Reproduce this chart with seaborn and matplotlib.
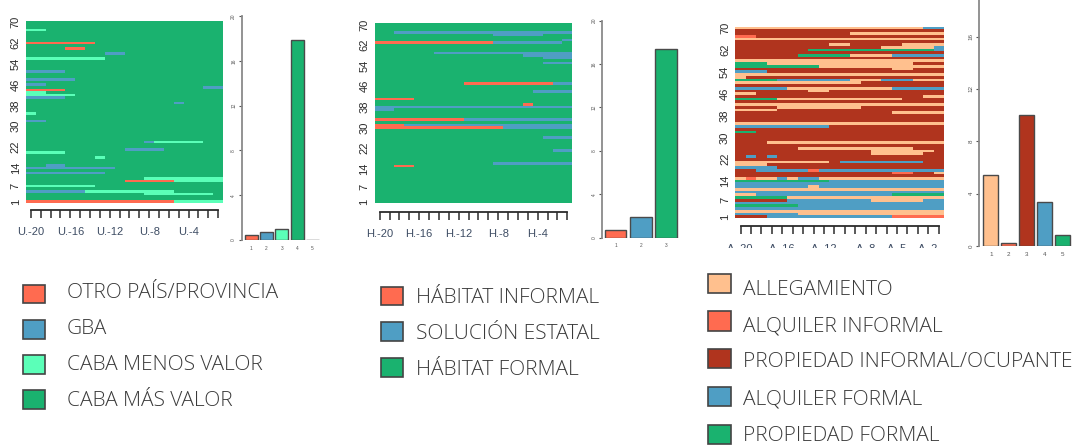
import numpy as np
import pandas as pd
import matplotlib
matplotlib.use("Agg")
import matplotlib.pyplot as plt
from matplotlib.colors import ListedColormap
from matplotlib.patches import Rectangle
import seaborn as sns

# colores
ROJO = "#FF6B50"
AZUL = "#4F9EC4"
MENTA = "#5BFFB8"
VERDE = "#1AB26F"
DURAZNO = "#FFC08E"
LADRILLO = "#B0341E"

# --- datos: tramos (fila, desde, hasta, categoria) sobre un fondo por panel ---
# panel 1: 1 otro pais, 2 gba, 3 caba menos valor, 4 caba mas valor
tramos_u = [
    (67, 0, 2, 3), (62, 0, 7, 1), (60, 4, 6, 1), (58, 8, 10, 2), (56, 0, 8, 3),
    (51, 0, 4, 2), (48, 0, 5, 2), (46, 0, 2, 2), (45, 18, 20, 2), (44, 0, 4, 1),
    (43, 0, 2, 3), (42, 0, 5, 3), (41, 0, 4, 2), (39, 15, 16, 2), (35, 0, 1, 3),
    (32, 0, 2, 2), (24, 12, 13, 2), (24, 13, 18, 3), (21, 10, 14, 2), (20, 0, 4, 3),
    (18, 7, 8, 3), (15, 2, 4, 2), (14, 0, 9, 2), (12, 0, 8, 2), (10, 12, 20, 3),
    (9, 10, 15, 1), (9, 15, 20, 3), (7, 0, 7, 3), (5, 0, 6, 2), (5, 6, 15, 3),
    (4, 12, 19, 3), (1, 0, 15, 1), (1, 15, 20, 3),
]
barras_u = [0.45, 0.7, 0.95, 17.9, 0.03]
colores_u = [ROJO, AZUL, MENTA, VERDE]
ticks_u = ["U.-20", "U.-16", "U.-12", "U.-8", "U.-4"]
pos_ticks_u = [0, 4, 8, 12, 16]
leyenda_u = ["OTRO PAÍS/PROVINCIA", "GBA", "CABA MENOS VALOR", "CABA MÁS VALOR"]

# panel 2: 1 informal, 2 estatal, 3 formal
tramos_h = [
    (67, 2, 20, 2), (66, 12, 17, 2), (64, 19, 20, 2), (63, 0, 12, 1), (63, 12, 19, 2),
    (59, 6, 20, 2), (58, 15, 20, 2), (57, 17, 20, 2), (55, 17, 20, 2), (47, 9, 18, 1),
    (47, 18, 20, 2), (44, 16, 20, 2), (41, 0, 4, 1), (39, 15, 16, 1), (38, 0, 20, 2),
    (37, 0, 2, 2), (33, 0, 9, 1), (33, 9, 20, 2), (31, 0, 3, 1), (31, 3, 20, 2),
    (30, 0, 13, 1), (30, 13, 20, 2), (26, 17, 20, 2), (21, 18, 20, 2), (16, 12, 20, 2),
    (15, 2, 4, 1),
]
barras_h = [0.68, 1.87, 17.4]
colores_h = [ROJO, AZUL, VERDE]
ticks_h = ["H.-20", "H.-16", "H.-12", "H.-8", "H.-4"]
pos_ticks_h = [0, 4, 8, 12, 16]
leyenda_h = ["HÁBITAT INFORMAL", "SOLUCIÓN ESTATAL", "HÁBITAT FORMAL"]

# panel 3: 1 allegamiento, 2 alquiler informal, 3 propiedad informal, 4 alquiler formal, 5 propiedad formal
tramos_a = [
    (70, 0, 18, 1), (70, 18, 20, 4), (68, 11, 20, 1), (67, 0, 2, 2), (66, 0, 20, 1),
    (64, 9, 11, 1), (64, 16, 20, 1), (63, 14, 19, 1), (63, 19, 20, 4), (62, 7, 19, 5),
    (62, 19, 20, 4), (60, 6, 11, 5), (60, 11, 15, 1), (60, 15, 20, 4), (58, 0, 20, 1),
    (57, 0, 3, 5), (57, 3, 17, 1), (56, 0, 8, 5), (56, 8, 20, 1), (55, 15, 17, 1),
    (54, 0, 3, 4), (53, 0, 20, 1), (52, 0, 1, 1), (51, 0, 4, 5), (51, 4, 11, 4),
    (51, 11, 12, 1), (51, 12, 14, 1), (51, 14, 17, 4), (51, 17, 20, 1), (50, 0, 12, 1),
    (48, 0, 5, 4), (48, 5, 15, 1), (48, 15, 20, 4), (47, 7, 9, 1), (46, 0, 2, 1),
    (45, 18, 20, 1), (44, 0, 4, 5), (44, 4, 16, 1), (42, 0, 20, 1), (41, 4, 12, 1),
    (40, 0, 4, 1), (39, 15, 20, 1), (35, 0, 20, 1), (34, 0, 9, 4), (32, 0, 2, 5),
    (28, 3, 20, 1), (26, 6, 17, 1), (25, 13, 19, 1), (24, 13, 18, 1), (23, 1, 2, 4),
    (23, 3, 4, 4), (21, 0, 9, 1), (21, 10, 18, 4), (20, 0, 3, 1), (19, 0, 4, 4),
    (18, 2, 7, 4), (18, 7, 8, 2), (18, 8, 20, 4), (17, 15, 17, 2), (17, 19, 20, 1),
    (15, 0, 1, 1), (15, 1, 2, 2), (15, 2, 4, 1), (15, 4, 5, 4), (15, 5, 6, 1),
    (15, 6, 8, 4), (15, 8, 20, 1), (14, 0, 9, 5), (14, 9, 20, 4), (13, 0, 20, 4),
    (12, 0, 20, 4), (12, 7, 8, 1), (11, 0, 20, 1), (10, 0, 20, 4), (9, 0, 2, 1),
    (9, 2, 15, 4), (9, 15, 20, 5), (8, 0, 5, 5), (8, 5, 20, 1), (7, 0, 5, 3),
    (7, 5, 13, 4), (7, 13, 18, 1), (7, 18, 20, 4), (6, 0, 20, 4), (5, 0, 6, 5),
    (5, 6, 20, 4), (4, 0, 20, 4), (3, 0, 20, 1), (2, 0, 6, 4), (2, 6, 20, 1),
    (1, 0, 3, 3), (1, 3, 15, 4), (1, 15, 20, 2),
]
barras_a = [5.4, 0.2, 10.0, 3.37, 0.84]
colores_a = [DURAZNO, ROJO, LADRILLO, AZUL, VERDE]
ticks_a = ["A.-20", "A.-16", "A.-12", "A.-8", "A.-5", "A.-2"]
pos_ticks_a = [0, 4, 8, 12, 15, 18]
leyenda_a = ["ALLEGAMIENTO", "ALQUILER INFORMAL", "PROPIEDAD INFORMAL/OCUPANTE", "ALQUILER FORMAL", "PROPIEDAD FORMAL"]

filas_y = [1, 7, 14, 22, 30, 38, 46, 54, 62, 70]
N_FILAS = 70
N_COLS = 20

# estilo
sns.set_style("white")
plt.rcParams["font.family"] = ["Liberation Sans", "DejaVu Sans"]

W, H = 1075, 446
fig = plt.figure(figsize=(W / 100, H / 100), dpi=100)


def caja(x0, y0, x1, y1):
    # pixeles (origen arriba a la izquierda) a fraccion de figura
    return [x0 / W, 1 - y1 / H, (x1 - x0) / W, (y1 - y0) / H]


def secuencias(box, tramos, fondo, colores, etiquetas, pos_etiquetas, sep, pad):
    m = np.full((N_FILAS, N_COLS), fondo)
    for fila, ini, fin, cat in tramos:
        m[N_FILAS - fila, ini:fin] = cat
    ax = fig.add_axes(caja(*box))
    sns.heatmap(m, cmap=ListedColormap(colores), vmin=0.5, vmax=len(colores) + 0.5,
                cbar=False, ax=ax, xticklabels=False, yticklabels=False)

    # eje y, rotado como en R
    ax.set_yticks([N_FILAS - f + 0.5 for f in filas_y])
    ax.set_yticklabels(filas_y, rotation=90, va="center", fontsize=8, color="#2b2b2b")
    ax.tick_params(axis="y", length=0, pad=3.8)

    # peine inferior: un tick por periodo (set_position reinicia los ticks, va primero)
    ax.spines["bottom"].set_visible(True)
    ax.spines["bottom"].set_position(("outward", sep))
    ax.set_xticks(np.arange(N_COLS) + 0.5)
    ax.set_xticklabels([etiquetas[pos_etiquetas.index(i)] if i in pos_etiquetas else ""
                        for i in range(N_COLS)])
    ax.tick_params(axis="x", length=6, width=1.1, color="#2b2b2b", pad=pad, bottom=True,
                   labelsize=8, labelcolor="#3d4c63")
    ax.spines["bottom"].set_bounds(0.5, N_COLS - 0.5)
    ax.spines["bottom"].set_linewidth(1.3)
    ax.spines["bottom"].set_color("#2b2b2b")
    return ax


def barras(box, valores, colores, xlim, ylim, yticks, fs, ancho=0.85):
    ax = fig.add_axes(caja(*box))
    df = pd.DataFrame({"cat": [str(i + 1) for i in range(len(valores))], "val": valores})
    sns.barplot(data=df, x="cat", y="val", hue="cat", palette=colores, legend=False, ax=ax,
                width=ancho, saturation=1, edgecolor="#4a4a4a", linewidth=1)
    ax.set_xlim(*xlim)
    ax.set_ylim(*ylim)
    ax.set_xlabel("")
    ax.set_ylabel("")
    ax.set_yticks(yticks)
    ax.set_yticklabels(yticks, rotation=90, va="center", fontsize=fs, color="#555555")
    ax.tick_params(axis="y", left=True, length=2.5, width=0.8, color="#555555", pad=1.5)
    ax.tick_params(axis="x", length=0, labelsize=fs, labelcolor="#555555", pad=4)
    ax.patch.set_alpha(0)
    sns.despine(ax=ax, bottom=True)
    ax.spines["left"].set_color("#8a8a8a")
    ax.spines["left"].set_linewidth(1.3)
    return ax


# heatmaps
secuencias((26, 21, 223, 203), tramos_u, 4, colores_u, ticks_u, pos_ticks_u, 5, 6.5)
secuencias((374.7, 23.3, 572.3, 203.3), tramos_h, 3, colores_h, ticks_h, pos_ticks_h, 6, 6.5)
secuencias((735.3, 26.7, 944, 218), tramos_a, 3, colores_a, ticks_a, pos_ticks_a, 6, 6.5)

# barras
barras((241.7, 16, 322, 240), barras_u, colores_u + [VERDE], (-0.627, 4.62), (0, 20),
       [0, 4, 8, 12, 16, 20], 3.5)
barras((602.3, 20.7, 680, 237.7), barras_h, colores_h, (-0.53, 2.56), (0, 20),
       [0, 4, 8, 12, 16, 20], 3.5, ancho=0.86)
barras((979.3, 0, 1073.6, 246), barras_a, colores_a, (-0.64, 4.6), (0, 18.8),
       [0, 4, 8, 12, 16], 4.5)

# capa en pixeles para leyendas y recorte de etiquetas
capa = fig.add_axes([0, 0, 1, 1], zorder=10)
capa.set_xlim(0, W)
capa.set_ylim(H, 0)
capa.axis("off")

# en la original las etiquetas del panel 3 quedan cortadas
capa.add_patch(Rectangle((725, 248), 235, 16, facecolor="white", edgecolor="none"))


def leyenda(textos, colores, x_sw, w_sw, h_sw, ys_sw, x_txt, ys_txt):
    for t, c, ys, yt in zip(textos, colores, ys_sw, ys_txt):
        capa.add_patch(Rectangle((x_sw, ys), w_sw, h_sw, facecolor=c, edgecolor="#444444", linewidth=1.2))
        capa.text(x_txt, yt + 2, t, fontsize=15, va="center", ha="left", color="#3a3a3a",
                  family="Open Sans", fontweight="light")


leyenda(leyenda_u, colores_u, 23, 21.5, 18.5, [284.5, 320, 355, 390], 66.7, [290.7, 326.7, 362.7, 399.3])
leyenda(leyenda_h, colores_h, 381, 22, 18.5, [286.5, 322, 358], 416, [295.7, 331.7, 368.3])
leyenda(leyenda_a, colores_a, 707.7, 23, 19.5, [273.5, 311, 348.5, 386.7, 424.7], 743.3,
        [288.3, 324.3, 360, 397.7, 434.3])

fig.savefig("out.png", dpi=100)
